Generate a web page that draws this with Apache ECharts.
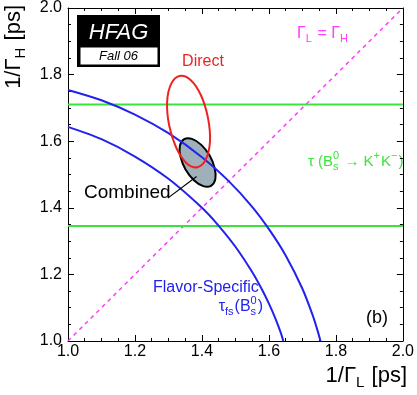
<!DOCTYPE html>
<html>
<head>
<meta charset="utf-8">
<script src="https://cdn.jsdelivr.net/npm/echarts@6.0.0/dist/echarts.min.js"></script>
<style>
html, body { margin: 0; padding: 0; background: #fff; }
#main { width: 417px; height: 395px; }
</style>
</head>
<body>
<div id="main"></div>
<script>
"use strict";

// axis range, 1/Gamma in ps (same on both axes)
var axisMin = 1.0, axisMax = 2.0, axisStep = 0.2;
var tickLabels = ['1.0', '1.2', '1.4', '1.6', '1.8', '2.0'];

// Gamma_L = Gamma_H
var diagLine = [[1.0, 1.0], [2.0, 2.0]];

// tau(Bs -> K+K-) band edges
var kkUpper = [[1.0, 1.71], [2.0, 1.71]];
var kkLower = [[1.0, 1.345], [2.0, 1.345]];

// flavor-specific lifetime band edges
var fsInner = [[1.00, 1.643], [1.10, 1.606], [1.20, 1.554], [1.30, 1.487], [1.40, 1.400], [1.45, 1.346],
               [1.50, 1.283], [1.55, 1.207], [1.58, 1.153], [1.60, 1.112], [1.62, 1.066], [1.635, 1.026], [1.643, 1.000]];
var fsOuter = [[1.00, 1.754], [1.10, 1.723], [1.20, 1.680], [1.30, 1.624], [1.40, 1.552], [1.48, 1.480],
               [1.55, 1.403], [1.60, 1.336], [1.65, 1.257], [1.70, 1.157], [1.73, 1.079], [1.745, 1.032], [1.754, 1.000]];

// direct measurement contour
var directEllipse = [[1.333, 1.796], [1.366, 1.784], [1.397, 1.738], [1.418, 1.670], [1.424, 1.600], [1.412, 1.546],
                     [1.387, 1.522], [1.354, 1.534], [1.323, 1.581], [1.302, 1.648], [1.296, 1.718], [1.308, 1.772]];

// combined contour
var combinedEllipse = [[1.347, 1.606], [1.370, 1.607], [1.398, 1.589], [1.423, 1.557], [1.438, 1.519], [1.440, 1.486],
                       [1.427, 1.466], [1.404, 1.465], [1.376, 1.483], [1.351, 1.515], [1.336, 1.553], [1.334, 1.586]];
var combinedPointer = [[1.298, 1.429], [1.384, 1.494]];

var FONT = '"Liberation Sans", Arial, Helvetica, sans-serif';
var BLUE = '#2222ee', GREEN = '#3be33b', RED = '#ee2222', MAGENTA = '#ff3cff';

// text width helper for the sub/superscript labels
var ctx = document.createElement('canvas').getContext('2d');
function textWidth(str, size, italic) {
    ctx.font = (italic ? 'italic ' : '') + size + 'px ' + FONT;
    return ctx.measureText(str).width;
}

function piece(str, x, y, size, color, italic) {
    return {
        type: 'text', x: x, y: y, silent: true,
        style: { text: str, font: (italic ? 'italic ' : '') + size + 'px ' + FONT, fill: color, align: 'left', verticalAlign: 'middle' }
    };
}

// pieces: plain strings or {sup, sub}; y=0 is the middle of the main text
function label(pieces, size, color, x, y, anchor, rotation) {
    var cx = 0, kids = [], small = Math.round(size * 0.7);
    pieces.forEach(function (p) {
        if (typeof p === 'string') {
            kids.push(piece(p, cx, 0, size, color));
            cx += textWidth(p, size);
        } else {
            var w = 0;
            if (p.sup) {
                kids.push(piece(p.sup, cx, -size * 0.38, small, color));
                w = Math.max(w, textWidth(p.sup, small));
            }
            if (p.sub) {
                kids.push(piece(p.sub, cx, size * 0.32, small, color));
                w = Math.max(w, textWidth(p.sub, small));
            }
            cx += w + 1;
        }
    });
    var off = anchor === 'right' ? -cx : (anchor === 'center' ? -cx / 2 : 0);
    kids.forEach(function (k) { k.x += off; });
    return { type: 'group', x: x, y: y, rotation: rotation || 0, children: kids, z: 100 };
}

function valueAxis(pos, showLabel, margin) {
    return {
        type: 'value', position: pos, min: axisMin, max: axisMax, interval: axisStep,
        axisLine: { show: true, onZero: false, lineStyle: { color: '#000', width: 1 } },
        axisTick: { show: true, inside: true, length: 6, lineStyle: { color: '#000', width: 1 } },
        minorTick: { show: true, splitNumber: 4, length: 3, lineStyle: { color: '#000', width: 1 } },
        splitLine: { show: false },
        axisLabel: {
            show: showLabel, margin: margin, color: '#000', fontSize: 16, fontFamily: FONT,
            formatter: function (v) { return tickLabels[Math.round((v - axisMin) / axisStep)]; }
        }
    };
}

function lineSeries(data, color, width, dash, z) {
    return {
        type: 'line', data: data, xAxisIndex: 0, yAxisIndex: 0,
        showSymbol: false, symbol: 'none', smooth: data.length > 2 ? 0.3 : false,
        silent: true, z: z || 3,
        lineStyle: { color: color, width: width, type: dash || 'solid' }
    };
}

function ellipseSeries(points, stroke, fill, z) {
    return {
        type: 'custom', coordinateSystem: 'cartesian2d', xAxisIndex: 0, yAxisIndex: 0,
        data: [points[0]], silent: true, z: z,
        renderItem: function (params, api) {
            var pts = points.map(function (d) { return api.coord(d); });
            return {
                type: 'polygon',
                shape: { points: pts, smooth: 0.35 },
                style: { fill: fill, stroke: stroke, lineWidth: 2 }
            };
        }
    };
}

function buildOption() {
    return {
        backgroundColor: '#fff',
        animation: false,
        grid: { left: 68, top: 5, width: 336, height: 336 },
        xAxis: [valueAxis('bottom', true, 3), valueAxis('top', false, 3)],
        yAxis: [valueAxis('left', true, 6), valueAxis('right', false, 6)],
        series: [
            ellipseSeries(combinedEllipse, '#000', '#9fb0ba', 2),
            lineSeries(diagLine, MAGENTA, 1.5, [4, 4]),
            lineSeries(kkUpper, GREEN, 2),
            lineSeries(kkLower, GREEN, 2),
            lineSeries(fsInner, BLUE, 2),
            lineSeries(fsOuter, BLUE, 2),
            ellipseSeries(directEllipse, RED, 'none', 4),
            lineSeries(combinedPointer, '#000', 1.2)
        ],
        graphic: [
            // HFAG logo
            { type: 'rect', shape: { x: 77, y: 15, width: 83, height: 52 }, style: { fill: '#000' }, z: 100 },
            { type: 'rect', shape: { x: 80.5, y: 47.5, width: 77, height: 17 }, style: { fill: '#fff' }, z: 101 },
            { type: 'text', x: 118.5, y: 33, z: 102, style: { text: 'HFAG', font: 'italic 22px ' + FONT, fill: '#fff', align: 'center', verticalAlign: 'middle' } },
            { type: 'text', x: 118.5, y: 56, z: 102, style: { text: 'Fall 06', font: 'italic 13px ' + FONT, fill: '#000', align: 'center', verticalAlign: 'middle' } },

            // axis titles
            label(['1/Γ', { sub: 'L' }, ' [ps]'], 22, '#000', 407, 376, 'right'),
            label(['1/Γ', { sub: 'H' }, ' [ps]'], 22, '#000', 14, 5, 'right', Math.PI / 2),

            // annotations
            label(['Direct'], 16, RED, 203, 62, 'center'),
            label(['Combined'], 19, '#000', 84, 193),
            label(['Flavor-Specific'], 16, BLUE, 153, 288),
            label(['τ', { sub: 'fs' }, '(B', { sup: '0', sub: 's' }, ')'], 16, BLUE, 263, 307, 'right'),
            label(['Γ', { sub: 'L' }, ' = Γ', { sub: 'H' }], 16, MAGENTA, 297, 34),
            label(['τ (B', { sup: '0', sub: 's' }, ' → K', { sup: '+' }, 'K', { sup: '−' }, ')'], 15, GREEN, 308, 162),
            label(['(b)'], 18, '#000', 366, 318)
        ]
    };
}

var chart = echarts.init(document.getElementById('main'), null, { renderer: 'canvas' });
chart.setOption(buildOption());
</script>
</body>
</html>
